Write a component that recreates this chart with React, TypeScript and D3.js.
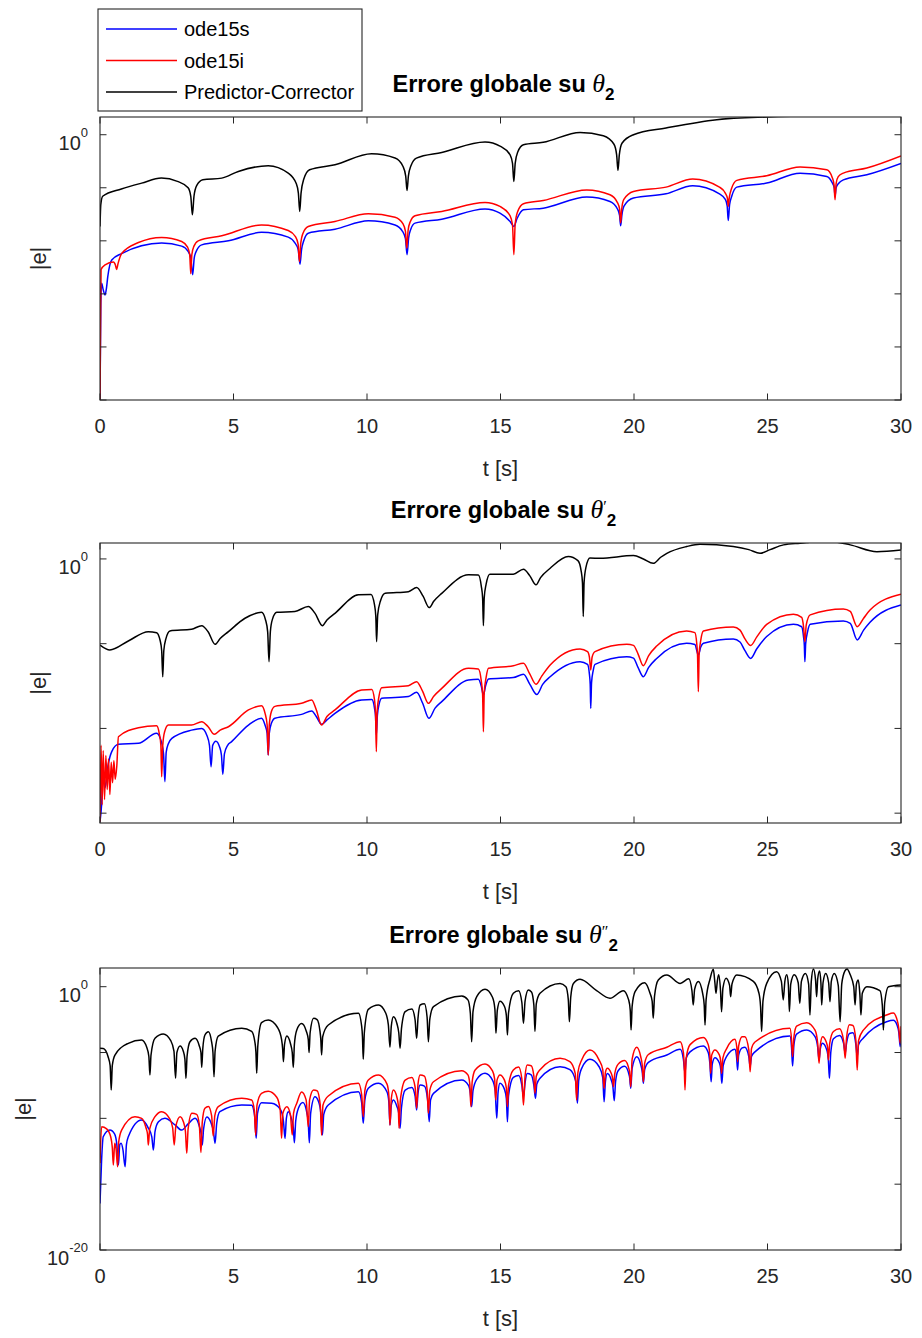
import React from 'react';
import * as d3 from 'd3';

type P = [number, number]; // [t (s), log10 |e|]

const xTicks = [0, 5, 10, 15, 20, 25, 30];
const seriesNames = ['ode15s', 'ode15i', 'Predictor-Corrector'];
const seriesColors = ['#0000ff', '#ff0000', '#000000'];

// ---- Panel 1: theta_2 ----
const p1Ode15s: P[] = [[0,-25],[0.03,-16],[0.06,-14.0],[0.12,-14.6],[0.19,-15.1],[0.24,-14.5],[0.29,-13.4],[0.44,-11.8],[0.81,-11.2],[2.31,-10.2],[3.06,-10.5],[3.3,-11.0],[3.4,-11.6],[3.47,-13.2],[3.53,-11.6],[3.62,-10.9],[3.81,-10.38],[4.81,-10.0],[6.05,-9.2],[7.05,-9.65],[7.3,-10.2],[7.42,-10.8],[7.49,-12.2],[7.55,-10.8],[7.63,-10.0],[7.8,-9.28],[8.8,-8.9],[10.05,-8.11],[11.05,-8.5],[11.33,-9.1],[11.44,-9.8],[11.5,-11.3],[11.56,-9.7],[11.64,-8.9],[11.8,-8.33],[12.8,-7.96],[14.42,-7.0],[14.98,-7.39],[15.36,-8.18],[15.5,-8.65],[15.62,-7.9],[15.86,-7.08],[16.6,-6.92],[18.23,-5.88],[19.1,-6.29],[19.38,-7.0],[19.46,-7.6],[19.5,-8.58],[19.55,-7.5],[19.63,-6.7],[19.98,-5.97],[21.2,-5.57],[22.2,-4.81],[23.2,-5.57],[23.42,-6.1],[23.49,-6.7],[23.53,-8.08],[23.58,-6.6],[23.66,-5.8],[23.85,-4.94],[24.97,-4.56],[26.22,-3.62],[27.22,-3.93],[27.42,-4.5],[27.5,-5.0],[27.53,-5.82],[27.57,-5.0],[27.66,-4.6],[27.84,-4.25],[28.72,-3.77],[30,-2.7]];
const p1Ode15i: P[] = [[0,-25],[0.02,-18],[0.04,-12.7],[0.19,-12.26],[0.5,-12.0],[0.58,-12.3],[0.62,-12.7],[0.68,-12.1],[0.81,-11.2],[1.44,-10.16],[2.31,-9.68],[3.06,-10.06],[3.28,-10.6],[3.36,-11.3],[3.4,-13.1],[3.44,-11.3],[3.52,-10.5],[3.68,-10.0],[4.56,-9.53],[6.05,-8.5],[7.05,-9.03],[7.32,-9.6],[7.42,-10.3],[7.47,-11.95],[7.52,-10.2],[7.6,-9.3],[7.8,-8.65],[8.8,-8.18],[10.05,-7.45],[11.05,-7.77],[11.35,-8.4],[11.44,-9.1],[11.49,-10.7],[11.54,-9.0],[11.62,-8.2],[11.8,-7.64],[12.8,-7.23],[14.42,-6.38],[14.98,-6.76],[15.36,-7.64],[15.45,-8.5],[15.5,-11.3],[15.55,-8.4],[15.65,-7.2],[15.86,-6.5],[16.6,-6.2],[18.23,-5.2],[19.1,-5.66],[19.38,-6.4],[19.46,-7.0],[19.5,-8.3],[19.54,-7.0],[19.62,-6.1],[19.98,-5.35],[21.2,-4.94],[22.2,-4.18],[23.2,-4.94],[23.42,-5.5],[23.5,-6.0],[23.53,-6.76],[23.57,-5.9],[23.65,-5.1],[23.85,-4.3],[24.97,-3.87],[26.22,-3.05],[27.22,-3.3],[27.42,-4.0],[27.49,-4.7],[27.53,-6.13],[27.57,-4.6],[27.65,-3.95],[27.84,-3.62],[28.72,-3.14],[30,-2.0]];
const p1PC: P[] = [[0,-8.65],[0.03,-6.6],[0.1,-5.8],[0.8,-5.12],[1.56,-4.56],[2.3,-4.09],[2.9,-4.4],[3.3,-5.0],[3.4,-5.8],[3.46,-7.55],[3.52,-5.8],[3.62,-4.8],[3.85,-4.25],[4.56,-4.09],[5.18,-3.46],[6.3,-2.92],[7.05,-3.62],[7.35,-4.6],[7.43,-5.5],[7.48,-7.23],[7.53,-5.5],[7.63,-4.2],[7.85,-3.3],[8.8,-2.83],[10.17,-1.8],[11.05,-2.2],[11.35,-3.0],[11.45,-3.9],[11.5,-5.25],[11.55,-3.9],[11.65,-2.9],[11.85,-2.2],[12.8,-1.67],[14.42,-0.69],[15.0,-1.1],[15.36,-1.9],[15.45,-2.7],[15.5,-4.4],[15.55,-2.7],[15.65,-1.6],[15.86,-0.94],[16.6,-0.72],[17.98,0.22],[18.85,-0.1],[19.25,-0.9],[19.35,-1.9],[19.4,-3.36],[19.45,-1.9],[19.55,-0.8],[19.98,0.0],[21.2,0.63],[23.1,1.42],[24.97,1.67],[30,1.9]];

// ---- Panel 2: theta_2' ----
const p2Ode15s: P[] = [[0,-15.5],[0.06,-14.5],[0.12,-12.35],[0.19,-13.5],[0.3,-12.2],[0.44,-11.37],[0.69,-10.94],[1.44,-10.88],[2.12,-10.29],[2.3,-10.8],[2.38,-11.5],[2.43,-13.14],[2.48,-11.4],[2.56,-10.9],[2.69,-10.59],[3.43,-10.1],[3.81,-10.0],[4.0,-10.4],[4.1,-11.0],[4.16,-12.26],[4.22,-11.0],[4.34,-10.75],[4.48,-11.1],[4.55,-11.6],[4.6,-12.71],[4.66,-11.5],[4.78,-11.0],[4.93,-10.78],[5.56,-9.8],[6.05,-9.4],[6.18,-9.8],[6.26,-10.3],[6.3,-11.57],[6.34,-10.3],[6.42,-9.7],[6.55,-9.4],[7.55,-9.17],[7.93,-8.97],[8.1,-9.3],[8.3,-9.76],[8.5,-9.5],[8.8,-9.11],[9.8,-8.32],[10.18,-8.3],[10.28,-8.8],[10.32,-9.3],[10.35,-10.39],[10.39,-9.2],[10.45,-8.6],[10.55,-8.22],[11.55,-8.12],[11.86,-7.87],[12.08,-8.5],[12.32,-9.4],[12.55,-8.8],[12.8,-8.42],[13.8,-7.14],[14.17,-7.1],[14.28,-7.5],[14.36,-8.03],[14.44,-7.5],[14.55,-7.08],[15.48,-7.0],[15.86,-6.81],[16.1,-7.4],[16.36,-8.0],[16.58,-7.4],[16.86,-6.95],[17.98,-6.06],[18.26,-6.22],[18.33,-6.8],[18.36,-7.4],[18.38,-8.82],[18.41,-7.3],[18.47,-6.6],[18.54,-6.22],[19.73,-5.77],[19.98,-5.85],[20.15,-6.4],[20.35,-6.95],[20.55,-6.4],[20.85,-5.87],[21.97,-4.98],[22.28,-5.05],[22.41,-5.67],[22.5,-5.2],[22.6,-4.98],[23.72,-4.72],[23.97,-4.9],[24.15,-5.4],[24.37,-5.87],[24.6,-5.3],[24.97,-4.58],[25.97,-3.86],[26.28,-4.0],[26.35,-4.6],[26.38,-5.1],[26.4,-6.06],[26.43,-5.0],[26.5,-4.3],[26.6,-3.86],[27.84,-3.66],[28.1,-3.8],[28.36,-4.78],[28.6,-4.2],[28.84,-3.74],[30,-2.72]];
const p2Ode15i: P[] = [[0,-15.5],[0.04,-11.0],[0.08,-14.5],[0.12,-11.3],[0.17,-14.2],[0.22,-11.6],[0.27,-13.6],[0.32,-11.8],[0.37,-13.9],[0.42,-12.0],[0.47,-13.2],[0.52,-11.9],[0.57,-13.0],[0.63,-12.2],[0.69,-10.49],[1.44,-9.96],[2.12,-9.84],[2.22,-10.3],[2.28,-11.0],[2.31,-12.85],[2.35,-11.0],[2.42,-10.2],[2.56,-9.8],[3.43,-9.8],[3.81,-9.6],[4.05,-9.9],[4.28,-10.35],[4.5,-10.1],[4.81,-9.9],[5.56,-8.91],[6.05,-8.66],[6.18,-9.1],[6.26,-9.8],[6.3,-11.57],[6.34,-9.8],[6.42,-9.0],[6.55,-8.7],[7.55,-8.52],[7.93,-8.32],[8.1,-8.9],[8.3,-9.8],[8.5,-9.3],[8.8,-8.91],[9.8,-7.73],[10.18,-7.7],[10.28,-8.3],[10.32,-9.1],[10.35,-11.37],[10.38,-9.0],[10.45,-8.1],[10.55,-7.6],[11.55,-7.48],[11.86,-7.24],[12.08,-7.8],[12.3,-8.52],[12.5,-8.1],[12.8,-7.64],[13.8,-6.45],[14.17,-6.5],[14.28,-7.2],[14.33,-8.0],[14.36,-10.2],[14.39,-7.9],[14.46,-7.0],[14.55,-6.45],[15.48,-6.3],[15.86,-6.16],[16.1,-6.8],[16.33,-7.4],[16.55,-6.9],[16.86,-6.26],[17.98,-5.31],[18.26,-5.47],[18.33,-5.8],[18.38,-6.55],[18.43,-5.8],[18.54,-5.47],[19.73,-5.04],[19.98,-5.1],[20.15,-5.6],[20.35,-6.3],[20.55,-5.7],[20.85,-5.14],[21.97,-4.25],[22.28,-4.35],[22.35,-5.0],[22.38,-5.7],[22.41,-7.83],[22.44,-5.6],[22.5,-4.8],[22.6,-4.25],[23.72,-4.01],[23.97,-4.2],[24.15,-4.7],[24.37,-5.11],[24.6,-4.6],[24.97,-3.86],[25.97,-3.26],[26.28,-3.45],[26.35,-4.0],[26.4,-4.88],[26.45,-3.9],[26.6,-3.3],[27.84,-2.95],[28.1,-3.1],[28.36,-4.0],[28.6,-3.5],[28.84,-3.01],[30,-2.08]];
const p2PC: P[] = [[0,-5.08],[0.37,-5.37],[1.06,-4.84],[1.81,-4.29],[2.12,-4.35],[2.25,-4.8],[2.31,-5.4],[2.35,-6.95],[2.39,-5.4],[2.47,-4.7],[2.62,-4.25],[3.43,-4.15],[3.81,-3.94],[4.05,-4.3],[4.31,-5.04],[4.5,-4.7],[4.81,-4.29],[5.43,-3.5],[6.05,-3.15],[6.2,-3.6],[6.28,-4.3],[6.33,-6.06],[6.38,-4.3],[6.46,-3.55],[6.62,-3.15],[7.3,-3.1],[7.8,-2.81],[8.05,-3.2],[8.33,-3.94],[8.5,-3.6],[8.8,-3.21],[9.68,-2.12],[10.15,-2.1],[10.28,-2.7],[10.33,-3.4],[10.36,-4.88],[10.4,-3.3],[10.5,-2.5],[10.68,-2.03],[11.55,-1.93],[11.86,-1.69],[12.1,-2.2],[12.33,-2.87],[12.5,-2.5],[12.8,-2.03],[13.8,-0.94],[14.17,-0.95],[14.28,-1.6],[14.33,-2.3],[14.36,-3.94],[14.39,-2.3],[14.46,-1.5],[14.6,-0.9],[15.48,-0.9],[15.86,-0.61],[16.1,-1.0],[16.33,-1.53],[16.5,-1.1],[16.86,-0.55],[17.54,0.14],[17.9,-0.1],[18.02,-0.7],[18.07,-1.4],[18.1,-3.4],[18.13,-1.4],[18.2,-0.5],[18.35,0.05],[18.73,0.04],[19.98,0.2],[20.35,0.0],[20.72,-0.26],[21.0,0.1],[21.23,0.33],[21.97,0.73],[22.47,0.87],[23.72,0.73],[24.3,0.55],[24.72,0.33],[25.1,0.55],[25.6,0.83],[26.22,0.93],[27.22,1.05],[28.1,0.83],[29.1,0.43],[30,0.53]];

// ---- Panel 3: theta_2'' ----
const p3Ode15s: P[] = [[0,-16.46],[0.06,-13.17],[0.12,-11.4],[0.37,-10.89],[0.55,-11.2],[0.63,-12.0],[0.69,-13.55],[0.74,-12.0],[0.79,-11.9],[0.86,-12.4],[0.94,-13.68],[0.99,-12.0],[1.06,-11.4],[1.56,-10.13],[1.8,-10.7],[1.94,-11.4],[2.0,-12.41],[2.06,-11.0],[2.19,-10.26],[2.43,-10.0],[2.81,-10.5],[3.06,-10.89],[3.31,-10.4],[3.56,-10.0],[3.72,-10.6],[3.79,-11.2],[3.83,-12.03],[3.88,-10.8],[4.0,-9.9],[4.15,-10.3],[4.25,-11.0],[4.31,-11.9],[4.37,-10.4],[4.49,-9.49],[5.31,-8.99],[5.68,-9.0],[5.79,-9.8],[5.85,-11.52],[5.9,-9.6],[6.05,-8.81],[6.43,-8.85],[6.75,-9.3],[6.87,-10.2],[6.93,-11.52],[6.98,-10.0],[7.05,-9.49],[7.18,-10.1],[7.24,-10.7],[7.28,-11.85],[7.33,-10.2],[7.43,-9.24],[7.6,-8.8],[7.75,-9.6],[7.8,-10.3],[7.84,-11.85],[7.89,-9.6],[8.05,-8.35],[8.18,-8.7],[8.27,-9.6],[8.33,-11.27],[8.38,-9.7],[8.55,-8.99],[9.68,-7.98],[9.8,-8.8],[9.86,-10.38],[9.92,-8.6],[10.05,-7.72],[10.43,-7.34],[10.75,-8.0],[10.82,-8.8],[10.86,-10.51],[10.91,-9.0],[10.99,-8.61],[11.12,-9.1],[11.19,-9.6],[11.24,-10.76],[11.29,-9.2],[11.43,-7.85],[11.68,-7.65],[11.8,-8.3],[11.86,-9.37],[11.91,-8.1],[11.99,-7.47],[12.15,-7.55],[12.27,-8.6],[12.33,-10.26],[12.38,-8.6],[12.49,-8.1],[13.55,-7.09],[13.8,-7.5],[13.87,-8.1],[13.92,-9.11],[13.97,-7.9],[14.11,-7.04],[14.42,-6.58],[14.7,-7.1],[14.8,-7.9],[14.86,-10.0],[14.91,-8.0],[14.98,-7.34],[15.15,-7.8],[15.22,-8.5],[15.26,-10.26],[15.3,-8.3],[15.48,-6.89],[15.68,-6.75],[15.8,-7.5],[15.86,-8.36],[15.92,-7.3],[16.0,-6.6],[16.15,-6.7],[16.25,-7.5],[16.31,-8.48],[16.36,-7.4],[16.48,-6.95],[17.23,-6.08],[17.6,-6.3],[17.82,-7.2],[17.88,-8.86],[17.93,-7.1],[18.04,-6.2],[18.35,-5.52],[18.7,-6.1],[18.83,-6.9],[18.88,-8.74],[18.93,-7.2],[19.0,-6.6],[19.15,-7.1],[19.21,-7.6],[19.26,-8.66],[19.31,-7.2],[19.4,-6.4],[19.65,-6.05],[19.83,-6.8],[19.88,-7.72],[19.93,-6.2],[20.1,-5.32],[20.25,-5.9],[20.31,-6.5],[20.35,-7.34],[20.4,-6.3],[20.54,-5.75],[21.23,-5.19],[21.73,-4.76],[21.85,-5.5],[21.91,-6.58],[21.96,-5.4],[22.1,-4.95],[22.6,-4.5],[22.78,-5.0],[22.84,-5.8],[22.89,-7.22],[22.93,-5.9],[23.03,-5.4],[23.2,-5.8],[23.25,-6.3],[23.29,-7.34],[23.34,-6.0],[23.47,-5.3],[23.78,-4.75],[23.84,-5.3],[23.88,-6.33],[23.92,-5.2],[24.05,-4.65],[24.15,-4.6],[24.3,-5.3],[24.35,-6.08],[24.4,-5.3],[24.53,-4.95],[25.84,-3.75],[25.9,-4.6],[25.94,-6.03],[25.99,-4.4],[26.09,-3.6],[26.47,-3.29],[26.78,-3.8],[26.88,-4.6],[26.93,-5.57],[26.98,-4.7],[27.06,-4.3],[27.22,-4.8],[27.28,-5.6],[27.32,-6.96],[27.37,-5.0],[27.47,-3.95],[27.7,-3.7],[27.85,-4.3],[27.91,-5.06],[27.96,-4.3],[28.07,-3.55],[28.2,-3.5],[28.31,-4.4],[28.36,-5.32],[28.41,-4.4],[28.59,-3.9],[29.46,-2.66],[29.71,-2.55],[29.85,-2.9],[29.92,-3.5],[29.97,-4.56],[30,-3.6]];
const p3Ode15i: P[] = [[0,-13.4],[0.06,-10.63],[0.25,-10.8],[0.4,-11.4],[0.46,-12.2],[0.5,-13.55],[0.55,-11.9],[0.6,-12.3],[0.66,-13.68],[0.7,-11.8],[0.81,-10.89],[1.31,-9.87],[1.56,-10.0],[1.72,-10.7],[1.78,-11.2],[1.81,-12.03],[1.86,-10.8],[2.06,-9.87],[2.31,-9.49],[2.6,-10.0],[2.72,-10.7],[2.78,-12.03],[2.84,-10.6],[3.0,-9.87],[3.13,-10.3],[3.2,-11.0],[3.25,-12.66],[3.3,-10.8],[3.44,-9.62],[3.62,-9.7],[3.72,-10.5],[3.78,-12.6],[3.83,-10.3],[3.93,-9.24],[4.06,-9.1],[4.18,-9.8],[4.24,-11.34],[4.3,-9.8],[4.43,-9.11],[5.31,-8.48],[5.68,-8.6],[5.78,-9.4],[5.83,-11.27],[5.88,-9.0],[6.05,-8.1],[6.3,-7.95],[6.62,-8.4],[6.75,-9.4],[6.8,-11.52],[6.85,-9.6],[7.0,-9.11],[7.13,-9.7],[7.2,-11.27],[7.25,-9.6],[7.37,-8.86],[7.55,-8.0],[7.72,-8.6],[7.8,-10.63],[7.85,-8.6],[8.0,-7.85],[8.13,-7.9],[8.25,-9.0],[8.3,-11.27],[8.35,-9.0],[8.55,-8.3],[9.68,-7.34],[9.8,-8.2],[9.86,-9.87],[9.92,-7.9],[10.05,-7.09],[10.43,-6.71],[10.75,-7.4],[10.82,-8.3],[10.86,-10.51],[10.91,-8.5],[10.99,-7.85],[11.12,-8.4],[11.17,-9.0],[11.2,-10.76],[11.25,-8.6],[11.43,-7.09],[11.68,-6.9],[11.8,-7.6],[11.86,-9.24],[11.91,-7.4],[11.99,-6.71],[12.15,-6.8],[12.25,-7.8],[12.3,-9.62],[12.35,-7.9],[12.49,-7.22],[13.55,-6.38],[13.78,-6.7],[13.85,-7.4],[13.89,-9.11],[13.94,-7.2],[14.05,-6.33],[14.42,-5.87],[14.7,-6.4],[14.78,-7.0],[14.82,-8.61],[14.87,-7.1],[14.98,-6.71],[15.15,-7.1],[15.22,-7.7],[15.26,-9.11],[15.3,-7.5],[15.48,-6.33],[15.68,-6.1],[15.8,-7.0],[15.86,-8.99],[15.92,-6.8],[16.0,-5.95],[16.15,-6.0],[16.25,-6.8],[16.29,-8.1],[16.34,-6.8],[16.48,-6.3],[17.23,-5.44],[17.6,-5.7],[17.8,-6.6],[17.85,-8.61],[17.9,-6.5],[18.04,-5.57],[18.35,-4.81],[18.7,-5.6],[18.83,-6.3],[18.88,-7.72],[18.93,-6.5],[19.0,-6.2],[19.15,-6.6],[19.2,-7.0],[19.23,-7.6],[19.28,-6.6],[19.4,-5.9],[19.65,-5.6],[19.83,-6.4],[19.88,-7.6],[19.93,-5.5],[20.1,-4.6],[20.25,-5.3],[20.31,-6.0],[20.35,-7.22],[20.4,-5.8],[20.54,-5.15],[21.23,-4.6],[21.73,-4.18],[21.85,-5.0],[21.88,-6.0],[21.91,-7.85],[21.95,-5.5],[22.1,-4.4],[22.6,-3.85],[22.78,-4.4],[22.84,-5.2],[22.87,-6.58],[22.91,-5.2],[23.03,-4.8],[23.2,-5.2],[23.25,-5.7],[23.28,-6.58],[23.33,-5.4],[23.47,-4.7],[23.78,-4.0],[23.85,-4.6],[23.88,-5.7],[23.92,-4.5],[24.05,-3.8],[24.15,-3.8],[24.3,-4.8],[24.35,-6.46],[24.4,-4.7],[24.53,-4.2],[25.84,-3.16],[25.9,-4.0],[25.94,-5.31],[25.99,-3.8],[26.09,-3.0],[26.47,-2.73],[26.78,-3.3],[26.88,-4.3],[26.93,-5.82],[26.98,-4.4],[27.06,-3.8],[27.2,-4.2],[27.25,-4.6],[27.28,-5.57],[27.33,-4.3],[27.47,-3.4],[27.7,-3.2],[27.85,-4.1],[27.91,-5.44],[27.96,-3.9],[28.07,-2.9],[28.2,-2.95],[28.31,-4.1],[28.36,-6.33],[28.41,-4.1],[28.59,-3.3],[29.46,-2.15],[29.71,-2.0],[29.85,-2.5],[29.92,-3.2],[29.97,-4.3],[30,-3.0]];
const p3PC: P[] = [[0,-4.68],[0.12,-4.7],[0.3,-5.3],[0.38,-6.0],[0.42,-7.85],[0.46,-6.0],[0.56,-5.19],[1.06,-4.3],[1.56,-4.05],[1.75,-4.6],[1.83,-5.3],[1.87,-6.71],[1.91,-5.2],[2.06,-3.92],[2.37,-3.59],[2.65,-4.1],[2.77,-4.9],[2.83,-6.96],[2.88,-5.0],[3.0,-4.51],[3.12,-4.9],[3.18,-5.5],[3.22,-6.96],[3.26,-5.3],[3.37,-4.18],[3.56,-3.92],[3.72,-4.5],[3.78,-5.0],[3.81,-6.13],[3.85,-4.7],[3.93,-3.67],[4.06,-3.42],[4.18,-4.2],[4.23,-5.0],[4.27,-6.84],[4.31,-4.9],[4.43,-3.75],[5.31,-3.16],[5.68,-3.4],[5.8,-4.2],[5.84,-5.0],[5.87,-6.58],[5.91,-4.5],[6.05,-2.73],[6.3,-2.53],[6.65,-3.1],[6.8,-4.0],[6.84,-4.7],[6.87,-5.7],[6.91,-4.4],[7.0,-3.75],[7.13,-4.3],[7.2,-5.0],[7.24,-6.13],[7.28,-4.4],[7.37,-3.29],[7.55,-2.8],[7.73,-3.4],[7.8,-4.0],[7.83,-5.0],[7.87,-3.5],[8.0,-2.4],[8.13,-2.5],[8.24,-3.4],[8.27,-4.0],[8.3,-5.19],[8.34,-3.8],[8.55,-2.91],[9.68,-2.02],[9.8,-3.0],[9.83,-3.8],[9.86,-5.52],[9.9,-3.5],[10.05,-1.72],[10.43,-1.39],[10.7,-2.0],[10.8,-2.9],[10.86,-4.6],[10.91,-3.0],[10.99,-2.28],[11.12,-2.8],[11.19,-3.5],[11.24,-4.68],[11.29,-3.2],[11.43,-1.9],[11.68,-1.7],[11.8,-2.5],[11.86,-3.92],[11.91,-2.4],[11.99,-1.39],[12.15,-1.3],[12.25,-2.3],[12.3,-4.18],[12.35,-2.5],[12.49,-1.52],[13.55,-0.71],[13.78,-1.0],[13.87,-2.0],[13.92,-4.18],[13.97,-1.9],[14.11,-0.76],[14.42,-0.2],[14.7,-0.8],[14.79,-1.7],[14.83,-3.54],[14.88,-1.8],[14.98,-1.1],[15.15,-1.5],[15.22,-2.2],[15.26,-3.67],[15.3,-2.0],[15.48,-0.5],[15.68,-0.3],[15.8,-1.2],[15.86,-2.78],[15.92,-1.1],[16.04,-0.25],[16.16,-0.4],[16.25,-1.4],[16.29,-3.41],[16.34,-1.3],[16.48,-0.5],[17.23,0.25],[17.45,0.0],[17.54,-1.0],[17.58,-2.66],[17.63,-0.8],[17.73,0.25],[17.98,0.56],[18.6,-0.3],[19.1,-0.88],[19.6,-0.3],[19.8,-1.0],[19.86,-1.8],[19.89,-3.29],[19.93,-1.5],[20.04,-0.38],[20.4,0.3],[20.6,-0.5],[20.68,-1.1],[20.72,-2.4],[20.77,-0.7],[20.91,0.51],[21.23,0.89],[21.73,0.25],[22.05,0.6],[22.17,-0.3],[22.22,-1.39],[22.27,-0.2],[22.41,0.4],[22.58,-0.6],[22.63,-1.4],[22.66,-2.91],[22.7,-1.0],[22.85,0.6],[22.97,1.32],[23.03,0.3],[23.07,-0.5],[23.12,0.4],[23.17,0.9],[23.24,-0.3],[23.28,-1.9],[23.33,-0.1],[23.45,0.65],[23.58,0.1],[23.62,-0.76],[23.67,0.2],[23.85,0.89],[24.47,0.4],[24.68,-0.5],[24.74,-1.5],[24.78,-3.41],[24.83,-1.1],[24.97,0.25],[25.34,1.14],[25.52,0.4],[25.59,-1.01],[25.65,0.4],[25.72,0.9],[25.78,0.2],[25.82,-1.9],[25.87,0.2],[26.0,0.9],[26.15,0.3],[26.21,-1.27],[26.27,0.4],[26.42,1.0],[26.54,0.2],[26.59,-2.15],[26.64,0.4],[26.72,1.35],[26.8,0.5],[26.84,-0.76],[26.88,0.6],[26.95,1.2],[27.0,0.3],[27.03,-1.39],[27.08,0.3],[27.18,1.0],[27.29,0.3],[27.34,-1.14],[27.39,0.4],[27.5,1.0],[27.65,0.1],[27.72,-2.66],[27.78,0.2],[27.9,1.2],[27.98,1.35],[28.1,0.9],[28.23,0.0],[28.28,-1.39],[28.33,0.2],[28.4,0.5],[28.46,-0.6],[28.5,-2.15],[28.55,-0.5],[28.72,0.0],[29.21,-0.3],[29.3,-1.4],[29.34,-3.29],[29.39,-1.2],[29.53,0.0],[30,0.13]];

// y-axis decade ticks (log10 exponents) and which are labelled
const p1YTicks = [0, -5, -10, -15, -20, -25];
const p2YTicks = [0, -5, -10, -15];
const p3YTicks = [0, -5, -10, -15, -20];
const p1YLabels = [0];
const p2YLabels = [0];
const p3YLabels = [0, -20];

const panels = [
  { id: 'a', primes: '', top: 117, bottom: 400, lo: -25, hi: 1.67, yTicks: p1YTicks, yLabels: p1YLabels, ylabX: 46, series: [p1Ode15s, p1Ode15i, p1PC] },
  { id: 'b', primes: '\u2032', top: 543, bottom: 823, lo: -15.58, hi: 0.94, yTicks: p2YTicks, yLabels: p2YLabels, ylabX: 46, series: [p2Ode15s, p2Ode15i, p2PC] },
  { id: 'c', primes: '\u2033', top: 968, bottom: 1250, lo: -20, hi: 1.42, yTicks: p3YTicks, yLabels: p3YLabels, ylabX: 31, series: [p3Ode15s, p3Ode15i, p3PC] },
];

const LEFT = 100;
const RIGHT = 901;
const AX = '#262626';
const SANS = "'Liberation Sans', Arial, Helvetica, sans-serif";
const SERIF = "'Liberation Serif', 'DejaVu Serif', 'Times New Roman', serif";

function Panel({ p }: { p: typeof panels[number] }) {
  const x = d3.scaleLinear().domain([0, 30]).range([LEFT, RIGHT]);
  const y = d3.scaleLog().domain([Math.pow(10, p.lo), Math.pow(10, p.hi)]).range([p.bottom, p.top]);
  const line = d3.line<P>().x(d => x(d[0])).y(d => y(Math.pow(10, d[1]))).curve(d3.curveMonotoneX);
  const cx = (LEFT + RIGHT) / 2;
  const tk = 6.5;
  const titleY = p.top - 25;
  return (
    <g>
      <defs>
        <clipPath id={`clip-${p.id}`}>
          <rect x={LEFT} y={p.top} width={RIGHT - LEFT} height={p.bottom - p.top} />
        </clipPath>
      </defs>
      <rect x={LEFT} y={p.top} width={RIGHT - LEFT} height={p.bottom - p.top} fill="#fff" />
      <g clipPath={`url(#clip-${p.id})`}>
        {p.series.map((s, i) => (
          <path key={i} d={line(s) || ''} fill="none" stroke={seriesColors[i]} strokeWidth={1.5} strokeLinejoin="round" />
        ))}
      </g>
      <rect x={LEFT} y={p.top} width={RIGHT - LEFT} height={p.bottom - p.top} fill="none" stroke={AX} strokeWidth={1.1} />
      {xTicks.map(t => (
        <g key={t}>
          <line x1={x(t)} x2={x(t)} y1={p.bottom} y2={p.bottom - tk} stroke={AX} strokeWidth={1} />
          <line x1={x(t)} x2={x(t)} y1={p.top} y2={p.top + tk} stroke={AX} strokeWidth={1} />
          <text x={x(t)} y={p.bottom + 33} textAnchor="middle" fontFamily={SANS} fontSize={20} fill={AX}>{t}</text>
        </g>
      ))}
      {p.yTicks.map(e => {
        const yy = y(Math.pow(10, e));
        return (
          <g key={e}>
            <line x1={LEFT} x2={LEFT + tk} y1={yy} y2={yy} stroke={AX} strokeWidth={1} />
            <line x1={RIGHT} x2={RIGHT - tk} y1={yy} y2={yy} stroke={AX} strokeWidth={1} />
            {p.yLabels.includes(e) && (
              <text x={88} y={yy + 15} textAnchor="end" fontFamily={SANS} fontSize={20} fill={AX}>
                10<tspan dy={-13} fontSize={13}>{e}</tspan>
              </text>
            )}
          </g>
        );
      })}
      {/* title: bold text, italic theta, primes raised, then subscript 2 */}
      <text x={cx + 3} y={titleY} textAnchor="middle" fontFamily={SANS} fontSize={23.5} fontWeight="bold" fill="#000">
        Errore globale su{' '}
        <tspan fontFamily={SERIF} fontStyle="italic" fontWeight="normal" fontSize={26}>θ</tspan>
        {p.primes ? (
          <>
            <tspan fontFamily={SERIF} fontWeight="normal" fontSize={16} dy={-6}>{p.primes}</tspan>
            <tspan fontSize={17} dy={14}>2</tspan>
          </>
        ) : (
          <tspan fontSize={17} dy={8}>2</tspan>
        )}
      </text>
      <text x={cx} y={p.bottom + 76} textAnchor="middle" fontFamily={SANS} fontSize={22} fill={AX}>t [s]</text>
      <text transform={`translate(${p.ylabX},${(p.top + p.bottom) / 2}) rotate(-90)`} textAnchor="middle" fontFamily={SANS} fontSize={22} fill={AX}>|e|</text>
    </g>
  );
}

export default function App() {
  const legendRows = [29, 60.5, 92];
  return (
    <svg width={922} height={1338} viewBox="0 0 922 1338" style={{ position: 'absolute', left: 0, top: 0, background: '#fff' }}>
      <rect x={0} y={0} width={922} height={1338} fill="#fff" />
      {panels.map(p => <Panel key={p.id} p={p} />)}
      <g>
        <rect x={98} y={9} width={264} height={102} fill="#fff" stroke={AX} strokeWidth={1.1} />
        {seriesNames.map((n, i) => (
          <g key={n}>
            <line x1={106} x2={177} y1={legendRows[i]} y2={legendRows[i]} stroke={seriesColors[i]} strokeWidth={1.5} />
            <text x={184} y={legendRows[i] + 7} fontFamily={SANS} fontSize={20} fill="#000">{n}</text>
          </g>
        ))}
      </g>
    </svg>
  );
}
